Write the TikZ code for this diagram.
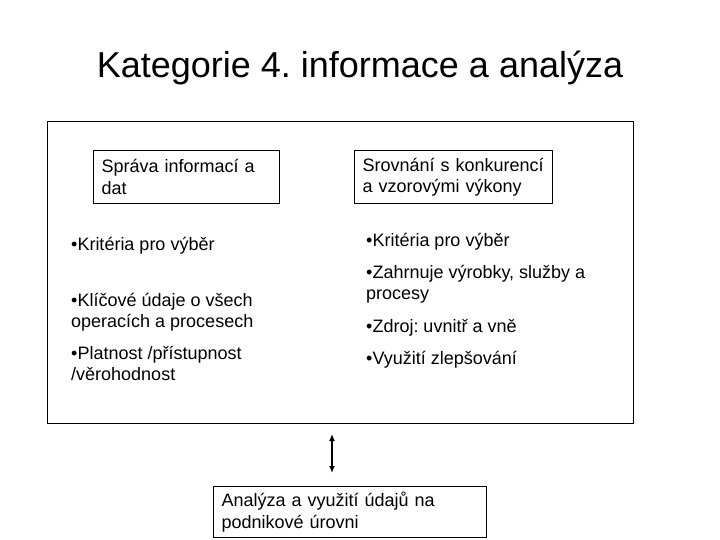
\documentclass[tikz,border=0pt]{standalone}
\usepackage{fontspec}
\setmainfont{Liberation Sans}
\frenchspacing
\usetikzlibrary{positioning,arrows.meta}
\tikzset{heading/.style={font=\fontsize{36}{43}\selectfont}}
\tikzset{outer/.style={draw,line width=1pt,minimum width=586pt,minimum height=301pt}}
\tikzset{topic/.style={draw,line width=1.2pt,anchor=north west,align=left,inner xsep=8pt,inner ysep=0pt,font=\fontsize{18}{21.5}\selectfont}}
\tikzset{item/.style={anchor=base west,align=left,inner sep=0pt,font=\fontsize{18}{21.5}\selectfont}}
\tikzset{link/.style={{Latex[length=7pt,width=6pt]}-{Latex[length=7pt,width=6pt]},line width=1.3pt}}

\begin{document}
\begin{tikzpicture}[x=1pt,y=-1pt]
\useasboundingbox (0,0) rectangle (720,540);

\node[heading] (title) at (360,68) {Kategorie 4. informace a analýza};

\node[outer] (frame) at (340,272.5) {};

%boxes at the top of the frame
\node[topic,minimum width=186pt,minimum height=53pt,text width=170pt] (sprava) at (93,150) {Správa informací a\\dat};
\node[topic,minimum width=198pt,minimum height=53pt,text width=182pt] (srovnani) at (354,150) {Srovnání s konkurencí\\a vzorovými výkony};

%left column (two-line items sit on their last line)
\node[item] (kriteriaL) at (71,251) {•Kritéria pro výběr};
\node[item] (klicove) at (71,327.5) {•Klíčové údaje o všech\\operacích a procesech};
\node[item] (platnost) at (71,380.5) {•Platnost /přístupnost\\/věrohodnost};

%right column
\node[item] (kriteriaR) at (366,246) {•Kritéria pro výběr};
\node[item] (zahrnuje) at (366,299.5) {•Zahrnuje výrobky, služby a\\procesy};
\node[item] (zdroj) at (366,332) {•Zdroj: uvnitř a vně};
\node[item] (vyuziti) at (366,364) {•Využití zlepšování};

\node[topic,minimum width=273pt,minimum height=51pt,text width=257pt] (analyza) at (213,486) {Analýza a využití údajů na\\podnikové úrovni};

\coordinate (spoj) at (332,423);
\draw[link,shorten <=11pt,shorten >=13pt] (spoj) -- (spoj |- analyza.north);

\end{tikzpicture}
\end{document}
